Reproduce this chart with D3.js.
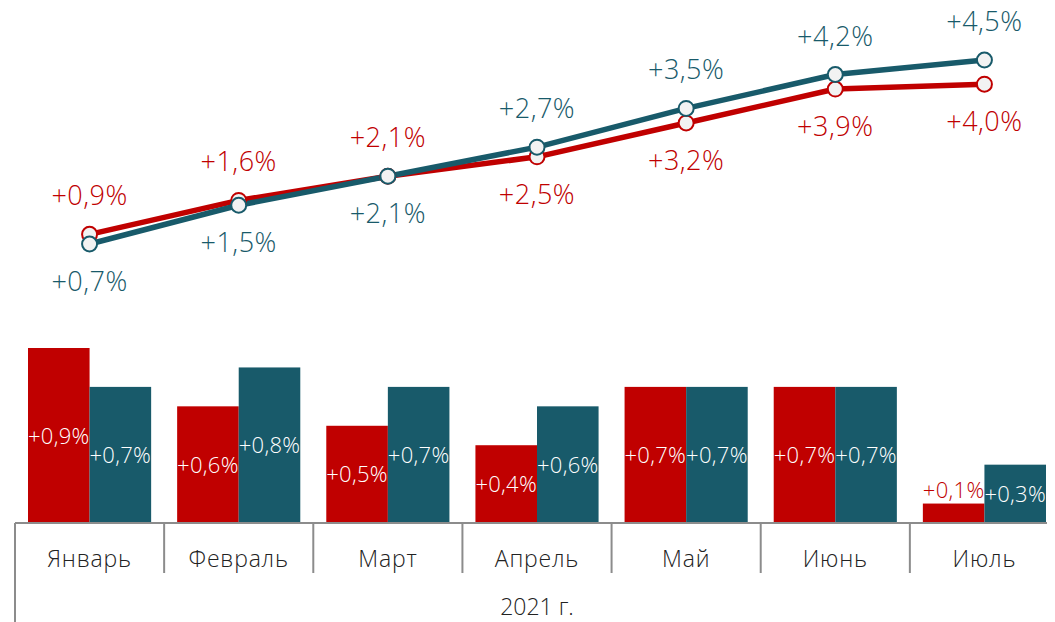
<!DOCTYPE html>
<html>
<head>
<meta charset="utf-8">
<script src="https://cdn.jsdelivr.net/npm/d3@7"></script>
<style>
  body { margin: 0; background: #fff; }
  svg { display: block; font-family: "Open Sans", Lato, sans-serif; font-weight: 300; }
</style>
</head>
<body>
<script>
(function(){

  var width = 1055, height = 622;

  var months = ['Январь', 'Февраль', 'Март', 'Апрель', 'Май', 'Июнь', 'Июль'];
  var monthRed = [0.9, 0.6, 0.5, 0.4, 0.7, 0.7, 0.1];
  var monthTeal = [0.7, 0.8, 0.7, 0.6, 0.7, 0.7, 0.3];
  var cumRed = [0.9, 1.6, 2.1, 2.5, 3.2, 3.9, 4.0];
  var cumTeal = [0.7, 1.5, 2.1, 2.7, 3.5, 4.2, 4.5];
  // which side the line label goes: -1 above, 1 below
  var sideRed = [-1, -1, -1, 1, 1, 1, 1];
  var sideTeal = [1, 1, 1, -1, -1, -1, -1];
  var yearLabel = '2021 г.';

  var red = '#c00000', teal = '#185a6a', axisGray = '#8c8c8c';

  var fmt = function(v){ return '+' + v.toFixed(1).replace('.', ',') + '%'; };

  var svg = d3.select('body').append('svg')
      .attr('width', width)
      .attr('height', height);

  var x = d3.scaleBand().domain(months).range([15, 1059]);
  var xs = d3.scaleBand().domain(['r', 't'])
      .range([13, x.bandwidth() - 13]);

  var yBar = d3.scaleLinear().domain([0, 0.9]).range([523, 348]);
  var yLine = d3.scaleLinear().domain([0.7, 4.5]).range([244, 60]);

  // bars
  var series = [
    { key: 'r', vals: monthRed, color: red },
    { key: 't', vals: monthTeal, color: teal }
  ];

  series.forEach(function(s){
    var g = svg.append('g');
    g.selectAll('rect')
      .data(s.vals)
      .enter().append('rect')
        .attr('x', function(d, i){ return x(months[i]) + xs(s.key); })
        .attr('y', function(d){ return yBar(d); })
        .attr('width', xs.bandwidth())
        .attr('height', function(d){ return yBar(0) - yBar(d); })
        .attr('fill', s.color);

    g.selectAll('text')
      .data(s.vals)
      .enter().append('text')
        .attr('x', function(d, i){ return x(months[i]) + xs(s.key) + xs.bandwidth() / 2; })
        .attr('y', function(d){
          var h = yBar(0) - yBar(d);
          return h < 30 ? yBar(d) - 6 : (yBar(d) + yBar(0)) / 2 + 8;
        })
        .attr('text-anchor', 'middle')
        .attr('font-size', 22)
        .attr('letter-spacing', 0.3)
        .attr('fill', function(d){ return (yBar(0) - yBar(d)) < 30 ? s.color : '#fff'; })
        .text(fmt);
  });

  // axis
  var ax = svg.append('g').attr('stroke', axisGray).attr('stroke-width', 2);
  ax.append('line')
      .attr('x1', 15).attr('x2', 1047)
      .attr('y1', 523).attr('y2', 523);
  ax.selectAll('.tk')
    .data(months.slice(1))
    .enter().append('line')
      .attr('x1', function(d){ return x(d); })
      .attr('x2', function(d){ return x(d); })
      .attr('y1', 523).attr('y2', 573);
  ax.append('line')
      .attr('x1', 15).attr('x2', 15)
      .attr('y1', 523).attr('y2', 622);

  svg.append('g').selectAll('text')
    .data(months)
    .enter().append('text')
      .attr('x', function(d){ return x(d) + x.bandwidth() / 2; })
      .attr('y', 567)
      .attr('text-anchor', 'middle')
      .attr('font-size', 23)
      .attr('letter-spacing', 0.8)
      .attr('fill', '#222')
      .text(function(d){ return d; });

  svg.append('text')
      .attr('x', (x.range()[0] + x.range()[1]) / 2)
      .attr('y', 615)
      .attr('text-anchor', 'middle')
      .attr('font-size', 23)
      .attr('fill', '#222')
      .text(yearLabel);

  // lines
  var lineSeries = [
    { vals: cumRed, side: sideRed, color: red },
    { vals: cumTeal, side: sideTeal, color: teal }
  ];
  var cx = function(i){ return x(months[i]) + x.bandwidth() / 2; };

  var line = d3.line()
      .x(function(d, i){ return cx(i); })
      .y(function(d){ return yLine(d); });

  lineSeries.forEach(function(s){
    svg.append('path')
      .datum(s.vals)
      .attr('d', line)
      .attr('fill', 'none')
      .attr('stroke', s.color)
      .attr('stroke-width', 5.5)
      .attr('stroke-linejoin', 'round');
  });

  lineSeries.forEach(function(s){
    var g = svg.append('g');
    g.selectAll('circle')
      .data(s.vals)
      .enter().append('circle')
        .attr('cx', function(d, i){ return cx(i); })
        .attr('cy', function(d){ return yLine(d); })
        .attr('r', 7.5)
        .attr('fill', '#f2f2f2')
        .attr('stroke', s.color)
        .attr('stroke-width', 2);

    g.selectAll('text')
      .data(s.vals)
      .enter().append('text')
        .attr('x', function(d, i){ return cx(i); })
        .attr('y', function(d, i){ return yLine(d) + s.side[i] * 38 + 9; })
        .attr('text-anchor', 'middle')
        .attr('font-size', 27)
        .attr('letter-spacing', 0.5)
        .attr('fill', s.color)
        .text(fmt);
  });

})()
</script>
</body>
</html>
